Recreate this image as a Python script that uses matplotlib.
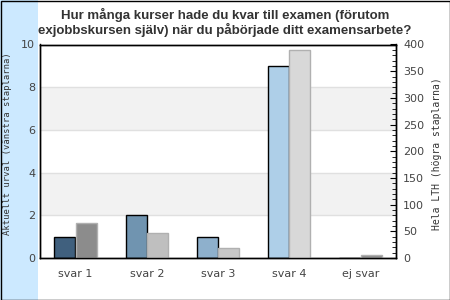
import numpy as np
import matplotlib.pyplot as plt
from matplotlib.patches import Rectangle
from matplotlib.ticker import MultipleLocator

# data
categories = ['svar 1', 'svar 2', 'svar 3', 'svar 4', 'ej svar']
urval = [1, 2, 1, 9, 0]            # left axis
lth = [65, 47, 18, 390, 5]         # right axis
urval_colors = ['#40607e', '#7094b0', '#8eb0cc', '#aecfe8', '#aecfe8']
lth_colors = ['#8c8c8c', '#bfbfbf', '#c8c8c8', '#d8d8d8', '#8c8c8c']

title = ('Hur många kurser hade du kvar till examen (förutom\n'
         'exjobbskursen själv) när du påbörjade ditt examensarbete?')

fig = plt.figure(figsize=(4.5, 3), dpi=100)
fig.patch.set_facecolor('white')

# light blue strip on the left and a frame round everything
fig.patches.append(Rectangle((0, 0), 38/450, 1, transform=fig.transFigure,
                             facecolor='#cce9ff', edgecolor='none', zorder=-5))
fig.patches.append(Rectangle((0.5/450, 0.5/300), 449/450, 299/300,
                             transform=fig.transFigure, facecolor='none',
                             edgecolor='black', lw=1, zorder=10))

ax = fig.add_axes([40/450, 42/300, 356/450, 213.5/300])
x = np.arange(len(categories))
w = 0.295

# bands and grid
for lo in [2, 6]:
    ax.axhspan(lo, lo + 2, color='#f2f2f2', zorder=0, lw=0)
for g in [2, 4, 6, 8]:
    ax.axhline(g, color='#e0e0e0', lw=1, zorder=0.5)

ax.bar(x - 0.15, urval, width=w, color=urval_colors, edgecolor='black',
       lw=1, zorder=2)
ax.set_xlim(-0.5, len(categories) - 0.5)
ax.set_ylim(0, 10)
ax.set_yticks([0, 2, 4, 6, 8, 10])
ax.set_xticks(x)
ax.set_xticklabels(categories)
ax.tick_params(axis='x', length=0, pad=8, labelsize=8, colors='#444444')
ax.tick_params(axis='y', length=0, pad=3.5, labelsize=8, colors='#444444')
ax.set_ylabel('Aktuellt urval (vänstra staplarna)', family='DejaVu Sans Mono',
              fontsize=6.4, color='#333333')
ax.yaxis.set_label_coords((12 - 40)/356, 0.536)

ax2 = ax.twinx()
ax2.bar(x + 0.15, lth, width=w, color=lth_colors, edgecolor='#b0b0b0',
        lw=1, zorder=2)
ax2.set_ylim(0, 400)
ax2.yaxis.set_major_locator(MultipleLocator(50))
ax2.yaxis.set_minor_locator(MultipleLocator(10))
ax2.tick_params(axis='y', which='major', direction='in', length=4,
                labelsize=8, colors='black', labelcolor='#444444', pad=5)
ax2.tick_params(axis='y', which='minor', direction='in', length=3)
ax2.set_ylabel('Hela LTH (högra staplarna)', family='DejaVu Sans Mono',
               fontsize=7, color='#333333')
ax2.yaxis.set_label_coords((432 - 40)/356, 0.49)

for a in (ax, ax2):
    for s in a.spines.values():
        s.set_color('black')
        s.set_linewidth(1)

fig.text(0.5, 0.975, title, ha='center', va='top', fontsize=9.5,
         family='Liberation Sans', fontweight='bold', color='#333333',
         linespacing=1.12)

fig.savefig('out.png', dpi=100)
